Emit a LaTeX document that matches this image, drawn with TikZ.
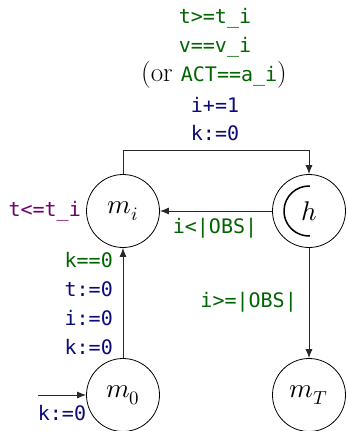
\documentclass[tikz,border=0pt]{standalone}
\usepackage{fontspec}
\usepackage{unicode-math}
\setmathfont{Latin Modern Math}
\setmonofont{DejaVu Sans Mono}
\usetikzlibrary{arrows.meta}
\definecolor{grn}{RGB}{0,100,0}
\definecolor{nvy}{RGB}{10,10,120}
\definecolor{prp}{RGB}{110,0,110}
\definecolor{ln}{RGB}{40,40,40}
\begin{document}
\begin{tikzpicture}[x=1pt,y=-1pt,
  state/.style={circle,draw=black,line width=0.8pt,minimum size=73pt,inner sep=0pt,font=\fontsize{27}{30}\selectfont},
  lbl/.style={inner sep=0pt,font=\fontsize{20}{24}\selectfont\ttfamily},
  edge/.style={draw=ln,line width=0.9pt,-{Latex[length=9pt,width=7pt]}}]
\useasboundingbox (0,0) rectangle (347,431);
\node[state] (mi) at (123,211) {$m_i$};
\node[state] (h) at (309,211) {$h$};
\node[state] (m0) at (123,395) {$m_0$};
\node[state] (mT) at (309,395) {$m_T$};
\draw[line width=1.5pt] ([shift={(88:25pt)}]h.center) arc[start angle=88,end angle=272,radius=25pt];
% top edge
\coordinate (c1) at (123,150);
\coordinate (c2) at (309,150);
\draw[edge] (mi.north) -- (c1) -- (c2) -- (h.north);
\node[lbl,text=grn] (g1) at (215,18) {t>=t\_i};
\node[lbl,text=grn] (g2) at (215,47) {v==v\_i};
\node[lbl] (g3) at (214,75) {{\fontsize{27}{30}\rmfamily(or }\textcolor{grn}{ACT==a\_i}{\fontsize{27}{30}\rmfamily)}};
\node[lbl,text=nvy] (u1) at (215,105) {i+=1};
\node[lbl,text=nvy] (u2) at (215,133) {k:=0};
% h -> mi
\draw[edge] (h.west) -- (mi.east);
\node[lbl,text=grn] (g4) at (215,228) {i<|OBS|};
% invariant
\node[lbl,text=prp,anchor=east] (inv) at (81,211) {t<=t\_i};
% m0 -> mi
\draw[edge] (m0.north) -- (mi.south);
\node[lbl,text=grn,anchor=east] (g5) at (113,260) {k==0};
\node[lbl,text=nvy,anchor=east] (u3) at (113,289) {t:=0};
\node[lbl,text=nvy,anchor=east] (u4) at (113,318) {i:=0};
\node[lbl,text=nvy,anchor=east] (u5) at (113,347) {k:=0};
% h -> mT
\draw[edge] (h.south) -- (mT.north);
\node[lbl,text=grn,anchor=east] (g6) at (297,302) {i>=|OBS|};
% initial
\coordinate (init) at (38,395);
\draw[edge] (init) -- (m0.west);
\node[lbl,text=nvy] (u6) at (62,413) {k:=0};
\end{tikzpicture}
\end{document}
